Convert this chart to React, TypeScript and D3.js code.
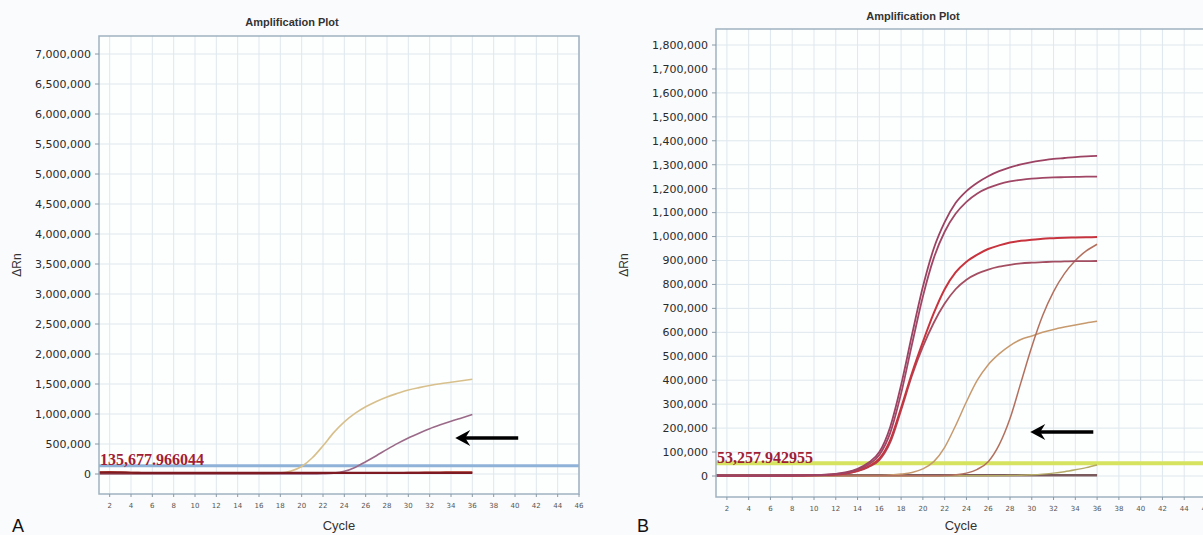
import React from "react";
import * as d3 from "d3";

// ---------- data ----------
const cycles = [1,2,3,4,5,6,7,8,9,10,11,12,13,14,15,16,17,18,19,20,21,22,23,24,25,26,27,28,29,30,31,32,33,34,35,36];
const xTickCycles = [2,4,6,8,10,12,14,16,18,20,22,24,26,28,30,32,34,36,38,40,42,44,46];
const yTicksA = [0,500000,1000000,1500000,2000000,2500000,3000000,3500000,4000000,4500000,5000000,5500000,6000000,6500000,7000000];
const yTicksB = [0,100000,200000,300000,400000,500000,600000,700000,800000,900000,1000000,1100000,1200000,1300000,1400000,1500000,1600000,1700000,1800000];

const thresholdA = 135677.966044;
const thresholdB = 53257.942955;
const thresholdLabelA = "135,677.966044";
const thresholdLabelB = "53,257.942955";

// Panel A series
const aTan = [0,0,0,0,0,0,0,0,0,0,0,0,0,0,0,0,5000,15000,50000,125000,270000,470000,690000,870000,1010000,1120000,1210000,1285000,1345000,1400000,1440000,1475000,1505000,1530000,1555000,1580000];
const aMauve = [0,0,0,0,0,0,0,0,0,0,0,0,0,0,0,0,0,0,0,0,0,5000,15000,45000,110000,205000,305000,410000,510000,600000,680000,755000,820000,880000,935000,990000];
const aNeg1 = [22000,24000,23000,21000,20000,20000,20000,20000,20000,20000,20000,20000,20000,20000,20000,20000,20000,20000,20000,20000,20000,20000,20000,20000,20000,20000,20000,20000,20000,20000,20000,20000,20000,20000,20000,20000];
const aNeg2 = [30000,32000,28000,22000,18000,16000,16000,16000,16000,16000,16000,16000,16000,16000,16000,16000,16000,16000,16000,16000,16000,16000,16000,16000,16000,16000,16000,16000,17000,19000,22000,25000,27000,28000,29000,30000];

// Panel B series
const bA = [2000,1500,1800,1200,1000,1500,2000,2500,3000,4000,5500,9000,16000,30000,55000,100000,205000,380000,590000,790000,950000,1060000,1140000,1190000,1225000,1252000,1273000,1289000,1301000,1311000,1318000,1324000,1328000,1332000,1335000,1337000];
const bB = [2000,1500,1500,1200,1000,1200,1500,2000,2500,3500,5000,8000,14000,27000,48000,88000,180000,345000,550000,750000,910000,1020000,1095000,1145000,1180000,1203000,1219000,1230000,1237000,1242000,1245000,1247000,1248000,1249000,1250000,1250000];
const bC = [1500,1200,1200,1000,1000,1000,1200,1500,2000,3000,4000,6000,11000,22000,40000,72000,150000,285000,430000,560000,680000,780000,850000,895000,925000,948000,963000,975000,982000,987000,991000,993000,995000,996000,997000,998000];
const bD = [1500,1200,1200,1000,1000,1000,1200,1500,2000,3000,4000,6000,10000,20000,37000,66000,140000,275000,420000,540000,640000,720000,780000,820000,845000,862000,874000,882000,888000,891000,893000,895000,896000,897000,897000,898000];
const bE = [2000,2000,2000,2000,2000,2000,2000,2000,2000,2000,2000,2000,2000,2000,2000,2000,4000,8000,15000,30000,60000,120000,210000,310000,400000,465000,510000,545000,570000,585000,600000,612000,622000,631000,639000,646000];
const bF = [1000,1000,1000,1000,1000,1000,1000,1000,1000,1000,1000,1000,1000,1000,1000,1000,1000,1000,1000,1000,1000,2000,5000,12000,28000,60000,130000,240000,390000,540000,670000,770000,845000,900000,940000,968000];
const bG = [1000,1000,1000,1000,1000,1000,1000,1000,1000,1000,1000,1000,1000,1000,1000,1000,1000,1000,1000,1000,1000,1000,1000,1000,1000,1000,1500,2000,3000,5000,8000,12000,18000,26000,35000,46000];
const bNeg = [3000,3000,3000,3000,3000,3000,3000,3000,3000,3000,3000,3000,3000,3000,3000,3000,3000,3000,3000,3000,3000,3000,3000,3000,3000,3000,3000,3000,3000,3000,3000,3000,3000,3000,3000,3000];

// arrows (data coordinates: from tail cycle to tip cycle at a value)
const arrowA = { tailCycle: 40.3, tipCycle: 34.4, value: 600000 };
const arrowB = { tailCycle: 35.65, tipCycle: 29.86, value: 184000 };

const fmt = d3.format(",");

function Panel({ x, y, frame, yTicks, series, threshold, thLabel, thColor, thWidth, title, titleX, titleY, ylabelX, letter, letterX, arrow }) {
  const gridColor = "#dfe8ee";
  const line = (vals) =>
    d3.line().x((d, i) => x(cycles[i])).y((d) => y(d)).curve(d3.curveMonotoneX)(vals);
  const cx = (frame.left + frame.right) / 2;
  const ay = y(arrow.value);
  const tipX = x(arrow.tipCycle);
  const tailX = x(arrow.tailCycle);
  const clipId = "clip" + letter;
  return (
    <g>
      <defs>
        <clipPath id={clipId}>
          <rect x={frame.left} y={frame.top} width={frame.right - frame.left} height={frame.bottom - frame.top} />
        </clipPath>
      </defs>
      <text x={titleX} y={titleY} textAnchor="middle" fontFamily="Liberation Sans, Arial" fontWeight="bold" fontSize={11} fill="#333">{title}</text>
      <rect x={frame.left} y={frame.top} width={frame.right - frame.left} height={frame.bottom - frame.top} fill="#fdfefe" />
      {xTickCycles.map((c) => (
        <line key={"gx" + c} x1={x(c)} x2={x(c)} y1={frame.top} y2={frame.bottom} stroke={gridColor} strokeWidth={1} />
      ))}
      {yTicks.map((v) => (
        <line key={"gy" + v} x1={frame.left} x2={frame.right} y1={y(v)} y2={y(v)} stroke={gridColor} strokeWidth={1} />
      ))}
      <g clipPath={`url(#${clipId})`}>
        <line x1={frame.left} x2={frame.right} y1={y(threshold)} y2={y(threshold)} stroke={thColor} strokeWidth={thWidth} />
        {series.map((s, i) => (
          <path key={i} d={line(s.values)} fill="none" stroke={s.color} strokeWidth={s.width} />
        ))}
      </g>
      <text x={frame.left + 1} y={y(threshold) - 0.5} fontFamily="Liberation Serif, Times New Roman" fontWeight="bold" fontSize={16} fill="#a01e36">{thLabel}</text>
      <rect x={frame.left} y={frame.top} width={frame.right - frame.left} height={frame.bottom - frame.top} fill="none" stroke="#9fb2c0" strokeWidth={1.5} />
      {yTicks.map((v) => (
        <g key={"ty" + v}>
          <line x1={frame.left - 4} x2={frame.left} y1={y(v)} y2={y(v)} stroke="#8a9aa6" />
          <text x={frame.left - 8} y={y(v)} dy="0.35em" textAnchor="end" fontFamily="DejaVu Sans" fontSize={11} fill="#2a2a2a">{fmt(v)}</text>
        </g>
      ))}
      {xTickCycles.map((c) => (
        <g key={"tx" + c}>
          <line x1={x(c)} x2={x(c)} y1={frame.bottom} y2={frame.bottom + 3} stroke="#8a9aa6" />
          <text x={x(c)} y={frame.bottom + 14} textAnchor="middle" fontFamily="DejaVu Sans" fontSize={7} fill="#555">{c}</text>
        </g>
      ))}
      <text x={cx} y={530} textAnchor="middle" fontFamily="Liberation Sans, Arial" fontSize={13} fill="#333">Cycle</text>
      <text transform={`translate(${ylabelX},265) rotate(-90)`} textAnchor="middle" fontFamily="Liberation Sans, Arial" fontSize={12} fill="#333">ΔRn</text>
      <text x={letterX} y={532} fontFamily="Liberation Sans, Arial" fontSize={18} fill="#111">{letter}</text>
      <line x1={tailX} x2={tipX + 6} y1={ay} y2={ay} stroke="#000" strokeWidth={3.5} />
      <path d={`M${tipX},${ay} L${tipX + 15},${ay - 8} L${tipX + 10},${ay} L${tipX + 15},${ay + 8} Z`} fill="#000" />
    </g>
  );
}

export default function App() {
  const xA = d3.scaleLinear().domain([1, 46]).range([99, 579]);
  const yA = d3.scaleLinear().domain([0, 7000000]).range([474, 54]);
  const xB = d3.scaleLinear().domain([1, 46]).range([716, 1206]);
  const yB = d3.scaleLinear().domain([0, 1800000]).range([476, 45]);

  const seriesA = [
    { values: aTan, color: "#d8c08c", width: 1.6 },
    { values: aMauve, color: "#9a6a88", width: 1.6 },
    { values: aNeg2, color: "#b8402a", width: 2 },
    { values: aNeg1, color: "#7e1a22", width: 2.2 },
  ];
  const seriesB = [
    { values: bNeg, color: "#7a5a5c", width: 2.5 },
    { values: bG, color: "#b4aa66", width: 1.4 },
    { values: bE, color: "#c79a6e", width: 1.5 },
    { values: bF, color: "#b3705e", width: 1.5 },
    { values: bD, color: "#a44e62", width: 1.8 },
    { values: bC, color: "#c8343e", width: 2 },
    { values: bB, color: "#a04766", width: 1.8 },
    { values: bA, color: "#9c4262", width: 1.8 },
  ];

  return (
    <svg width={1203} height={535} style={{ position: "absolute", left: 0, top: 0, background: "#fafbfc" }}>
      <Panel x={xA} y={yA} frame={{ left: 99, right: 579, top: 36, bottom: 494 }} yTicks={yTicksA} series={seriesA}
        threshold={thresholdA} thLabel={thresholdLabelA} thColor="#8fb2d8" thWidth={3}
        title="Amplification Plot" titleX={292} titleY={26} ylabelX={21} letter="A" letterX={12} arrow={arrowA} />
      <Panel x={xB} y={yB} frame={{ left: 716, right: 1206, top: 29, bottom: 497 }} yTicks={yTicksB} series={seriesB}
        threshold={thresholdB} thLabel={thresholdLabelB} thColor="#d5e35e" thWidth={4}
        title="Amplification Plot" titleX={913} titleY={20} ylabelX={628} letter="B" letterX={637} arrow={arrowB} />
    </svg>
  );
}
